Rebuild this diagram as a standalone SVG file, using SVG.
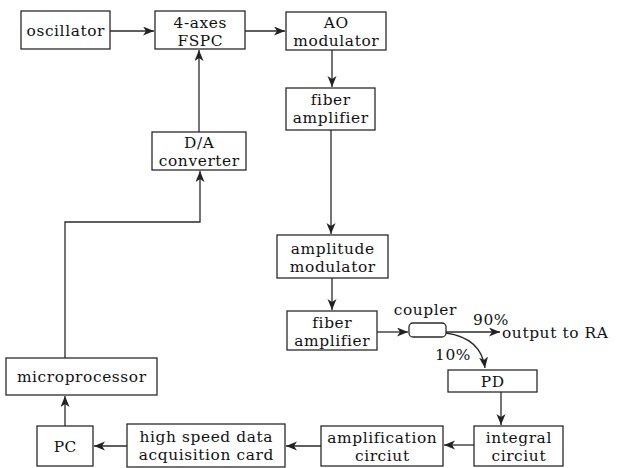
<svg xmlns="http://www.w3.org/2000/svg" width="620" height="468" viewBox="0 0 620 468">
<defs>
<marker id="ah" markerWidth="12" markerHeight="10" refX="11" refY="4.5" orient="auto" markerUnits="userSpaceOnUse">
<path d="M0,0 L11,4.5 L0,9 L3,4.5 z" fill="#222"/>
</marker>
<style>
.box{fill:#fff;stroke:#2a2a2a;stroke-width:1.3}
.t{font-family:"DejaVu Serif","Liberation Serif",serif;font-size:15.4px;letter-spacing:0.6px;fill:#111;text-anchor:middle}
.ts{font-family:"DejaVu Serif","Liberation Serif",serif;font-size:15.4px;letter-spacing:0.6px;fill:#111}
.c{fill:none;stroke:#2a2a2a;stroke-width:1.3}
</style>
</defs>
<rect width="620" height="468" fill="#fff"/>
<g id="connectors">
<path class="c" d="M110,31 H154" marker-end="url(#ah)"/>
<path class="c" d="M245,31 H285" marker-end="url(#ah)"/>
<path class="c" d="M332,50 V87" marker-end="url(#ah)"/>
<path class="c" d="M331,130 V234" marker-end="url(#ah)"/>
<path class="c" d="M332,278 V310" marker-end="url(#ah)"/>
<path class="c" d="M377,332 H408" marker-end="url(#ah)"/>
<path class="c" d="M446,332 H500" marker-end="url(#ah)"/>
<path class="c" d="M446,333 Q481,338 485,368" marker-end="url(#ah)"/>
<path class="c" d="M501,392 V425" marker-end="url(#ah)"/>
<path class="c" d="M474,445 H444" marker-end="url(#ah)"/>
<path class="c" d="M321,446 H286" marker-end="url(#ah)"/>
<path class="c" d="M127,446 H94" marker-end="url(#ah)"/>
<path class="c" d="M65,426 V396" marker-end="url(#ah)"/>
<path class="c" d="M65,358 V222 H200 V171" marker-end="url(#ah)"/>
<path class="c" d="M199,132 V50" marker-end="url(#ah)"/>
</g>
<g id="oscillator"><rect class="box" x="21" y="11" width="89" height="38"/><text class="t" x="65.8" y="35.5">oscillator</text></g>
<g id="fspc"><rect class="box" x="155" y="11" width="90" height="38"/><text class="t" x="200.3" y="27.5">4-axes</text><text class="t" x="200.3" y="45.5">FSPC</text></g>
<g id="ao"><rect class="box" x="286" y="12" width="100" height="38"/><text class="t" x="336.3" y="28">AO</text><text class="t" x="336.3" y="46">modulator</text></g>
<g id="fiberamp1"><rect class="box" x="286" y="88" width="89" height="42"/><text class="t" x="330.8" y="104.5">fiber</text><text class="t" x="330.8" y="122.5">amplifier</text></g>
<g id="da"><rect class="box" x="152" y="132" width="94" height="38"/><text class="t" x="199.3" y="148">D/A</text><text class="t" x="199.3" y="166">converter</text></g>
<g id="ampmod"><rect class="box" x="277" y="235" width="111" height="43"/><text class="t" x="332.8" y="253.5">amplitude</text><text class="t" x="332.8" y="271.5">modulator</text></g>
<g id="fiberamp2"><rect class="box" x="287" y="311" width="90" height="39"/><text class="t" x="332.3" y="327.5">fiber</text><text class="t" x="332.3" y="345.5">amplifier</text></g>
<g id="coupler"><rect class="box" x="409" y="323" width="37" height="14" rx="4"/><text class="t" x="425.3" y="315">coupler</text></g>
<g id="labels"><text class="ts" x="473" y="325">90%</text><text class="ts" x="502" y="338">output to RA</text><text class="ts" x="435" y="360">10%</text></g>
<g id="pd"><rect class="box" x="448" y="370" width="89" height="22"/><text class="t" x="492.8" y="386.5">PD</text></g>
<g id="integral"><rect class="box" x="474" y="426" width="89" height="40"/><text class="t" x="518.8" y="442.5">integral</text><text class="t" x="518.8" y="460.5">circiut</text></g>
<g id="amplification"><rect class="box" x="321" y="426" width="122" height="40"/><text class="t" x="382.3" y="442.5">amplification</text><text class="t" x="382.3" y="460.5">circiut</text></g>
<g id="hsdaq"><rect class="box" x="127" y="424" width="158" height="43"/><text class="t" x="206.3" y="441.5">high speed data</text><text class="t" x="206.3" y="459.5">acquisition card</text></g>
<g id="pc"><rect class="box" x="37" y="426" width="56" height="40"/><text class="t" x="65.3" y="451.5">PC</text></g>
<g id="micro"><rect class="box" x="6" y="358" width="151" height="37"/><text class="t" x="81.8" y="381.5">microprocessor</text></g>
</svg>
